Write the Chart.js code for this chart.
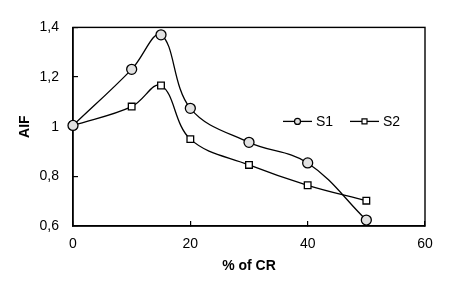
<!DOCTYPE html>
<html>
<head>
<meta charset="utf-8">
<script src="https://cdn.jsdelivr.net/npm/chart.js@4/dist/chart.umd.min.js"></script>
<style>
  html, body { margin: 0; padding: 0; background: #fff; }
  canvas { display: block; }
</style>
</head>
<body>
<canvas id="aifChart" width="452" height="285"></canvas>
<script>
'use strict';

/* --------------------------------------------------------------------------
   DATA
   -------------------------------------------------------------------------- */
const crPercent = [0, 10, 15, 20, 30, 40, 50];
const aifS1 = [1.005, 1.231, 1.370, 1.074, 0.937, 0.854, 0.624];
const aifS2 = [1.005, 1.081, 1.166, 0.950, 0.846, 0.764, 0.702];
const seriesNames = ['S1', 'S2'];
const xTicks = [0, 20, 40, 60];
const yTicks = [0.6, 0.8, 1.0, 1.2, 1.4];

const FONT = "'Liberation Sans', Arial, sans-serif";

function toPoints(ys) {
    return crPercent.map((x, i) => ({ x: x, y: ys[i] }));
}

/* --------------------------------------------------------------------------
   PLUGINS: frame around plot area + inline legend (line through marker)
   -------------------------------------------------------------------------- */
const framePlugin = {
    id: 'frame',
    beforeDatasetsDraw(chart) {
        const { ctx, chartArea: a } = chart;
        ctx.save();
        ctx.strokeStyle = '#000';
        ctx.lineWidth = 1.4;
        ctx.strokeRect(a.left, a.top, a.right - a.left, a.bottom - a.top);
        ctx.restore();
    },
};

const inlineLegend = {
    id: 'inlineLegend',
    afterDraw(chart) {
        const { ctx, chartArea: a } = chart;
        const y = a.top + 94;
        const items = [
            { x: a.left + 210, ds: chart.data.datasets[0] },
            { x: a.left + 277, ds: chart.data.datasets[1] },
        ];
        ctx.save();
        items.forEach(it => {
            const lineLen = 29;
            const cx = it.x + lineLen / 2;
            ctx.strokeStyle = '#000';
            ctx.lineWidth = 1.3;
            ctx.beginPath();
            ctx.moveTo(it.x, y);
            ctx.lineTo(it.x + lineLen, y);
            ctx.stroke();
            // marker
            ctx.fillStyle = it.ds.pointBackgroundColor;
            ctx.lineWidth = 1.2;
            ctx.beginPath();
            if (it.ds.pointStyle === 'rect') {
                ctx.rect(cx - 2.5, y - 2.5, 5, 5);
            } else {
                ctx.arc(cx, y, 3, 0, Math.PI * 2);
            }
            ctx.fill();
            ctx.stroke();
            ctx.fillStyle = '#000';
            ctx.font = '14px ' + FONT;
            ctx.textBaseline = 'middle';
            ctx.textAlign = 'left';
            ctx.fillText(it.ds.label, it.x + lineLen + 4, y + 1);
        });
        ctx.restore();
    },
};

/* --------------------------------------------------------------------------
   CHART
   -------------------------------------------------------------------------- */
const ctx = document.getElementById('aifChart').getContext('2d');

new Chart(ctx, {
    type: 'line',
    data: {
        datasets: [
            {
                label: seriesNames[0],
                data: toPoints(aifS1),
                borderColor: '#000',
                borderWidth: 1.3,
                pointStyle: 'circle',
                pointRadius: 5,
                pointBorderWidth: 1.3,
                pointBorderColor: '#000',
                pointBackgroundColor: '#e2e2e2',
                tension: 0.38,
                clip: false,
            },
            {
                label: seriesNames[1],
                data: toPoints(aifS2),
                borderColor: '#000',
                borderWidth: 1.3,
                pointStyle: 'rect',
                pointRadius: 4.7,
                pointBorderWidth: 1.3,
                pointBorderColor: '#000',
                pointBackgroundColor: '#fff',
                tension: 0.38,
                clip: false,
            },
        ],
    },
    options: {
        responsive: false,
        animation: false,
        devicePixelRatio: 1,
        layout: { padding: { left: 0, top: 22, right: 27, bottom: 0 } },
        plugins: {
            legend: { display: false },
            tooltip: { enabled: false },
        },
        scales: {
            x: {
                type: 'linear',
                min: 0,
                max: 60,
                afterBuildTicks: s => { s.ticks = xTicks.map(v => ({ value: v })); },
                afterFit: s => { s.height = 59; },
                border: { display: true, color: '#000', width: 1.4 },
                grid: { drawOnChartArea: false, drawTicks: true, tickLength: -5, color: '#000', lineWidth: 1.2 },
                ticks: { color: '#000', padding: 15, font: { family: FONT, size: 14 } },
                title: {
                    display: true,
                    text: '% of CR',
                    color: '#000',
                    font: { family: FONT, size: 14, weight: 'bold' },
                    padding: { top: 0, bottom: 10.5 },
                },
            },
            y: {
                min: 0.6,
                max: 1.4,
                afterBuildTicks: s => { s.ticks = yTicks.map(v => ({ value: v })); },
                afterFit: s => { s.width = 73; },
                border: { display: true, color: '#000', width: 1.4 },
                grid: { drawOnChartArea: false, drawTicks: true, tickLength: -5, color: '#000', lineWidth: 1.2 },
                ticks: {
                    color: '#000',
                    padding: 19,
                    font: { family: FONT, size: 14 },
                    callback: v => String(Number(v.toFixed(1))).replace('.', ','),
                },
                title: {
                    display: true,
                    text: 'AIF',
                    color: '#000',
                    font: { family: FONT, size: 14, weight: 'bold' },
                    padding: { top: 16.6, bottom: 0 },
                },
            },
        },
    },
    plugins: [framePlugin, inlineLegend],
});
</script>
</body>
</html>
